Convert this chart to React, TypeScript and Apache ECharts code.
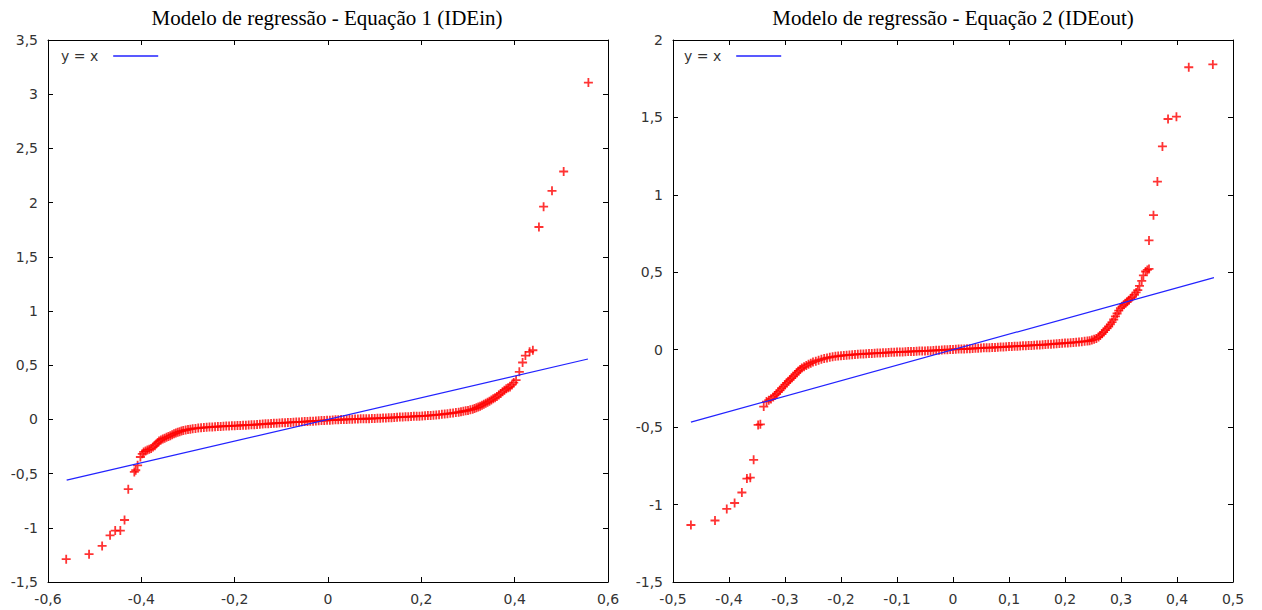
import React, { useEffect, useRef } from "react";
import * as echarts from "echarts";

// ---------- Data: Equação 1 (IDEin) ----------
const leftTitle = "Modelo de regressão - Equação 1 (IDEin)";
const leftLowTail: number[][] = [
  [-0.561, -1.289], [-0.512, -1.243], [-0.484, -1.167], [-0.467, -1.069], [-0.456, -1.026],
  [-0.445, -1.026], [-0.436, -0.928], [-0.428, -0.644], [-0.415, -0.485], [-0.412, -0.469],
  [-0.408, -0.424], [-0.402, -0.347],
];
const leftBody: number[][] = [
  [-0.398, -0.318], [-0.395, -0.300], [-0.391, -0.292], [-0.387, -0.282], [-0.383, -0.276],
  [-0.379, -0.268], [-0.375, -0.255], [-0.371, -0.242], [-0.368, -0.226], [-0.365, -0.212],
  [-0.362, -0.200], [-0.358, -0.190], [-0.354, -0.181], [-0.350, -0.173], [-0.346, -0.165],
  [-0.342, -0.158], [-0.338, -0.150], [-0.334, -0.142], [-0.330, -0.133], [-0.326, -0.126],
  [-0.322, -0.119], [-0.318, -0.113], [-0.314, -0.108], [-0.310, -0.103], [-0.305, -0.098],
  [-0.300, -0.094], [-0.295, -0.090], [-0.290, -0.086], [-0.284, -0.083], [-0.278, -0.080],
  [-0.272, -0.077], [-0.266, -0.075], [-0.260, -0.073], [-0.254, -0.071], [-0.248, -0.069],
  [-0.242, -0.068], [-0.236, -0.066], [-0.230, -0.065], [-0.224, -0.063], [-0.218, -0.062],
  [-0.212, -0.061], [-0.206, -0.059], [-0.200, -0.058], [-0.194, -0.057], [-0.188, -0.056],
  [-0.182, -0.054], [-0.176, -0.053], [-0.170, -0.052], [-0.164, -0.050], [-0.158, -0.049],
  [-0.152, -0.047], [-0.146, -0.045], [-0.140, -0.043], [-0.134, -0.041], [-0.128, -0.040],
  [-0.122, -0.038], [-0.116, -0.036], [-0.110, -0.035], [-0.104, -0.033], [-0.098, -0.032],
  [-0.092, -0.030], [-0.086, -0.029], [-0.080, -0.028], [-0.074, -0.026], [-0.068, -0.025],
  [-0.062, -0.023], [-0.056, -0.022], [-0.050, -0.020], [-0.044, -0.019], [-0.038, -0.017],
  [-0.032, -0.016], [-0.026, -0.014], [-0.020, -0.013], [-0.014, -0.011], [-0.008, -0.010],
  [-0.002, -0.008], [0.004, -0.007], [0.010, -0.006], [0.016, -0.004], [0.022, -0.003],
  [0.028, -0.002], [0.034, -0.001], [0.040, 0.000], [0.046, 0.001], [0.052, 0.002],
  [0.058, 0.003], [0.064, 0.004], [0.070, 0.005], [0.076, 0.006], [0.082, 0.006],
  [0.088, 0.007], [0.094, 0.008], [0.100, 0.009], [0.106, 0.010], [0.112, 0.011],
  [0.118, 0.012], [0.124, 0.013], [0.130, 0.015], [0.136, 0.016], [0.142, 0.018],
  [0.148, 0.019], [0.154, 0.021], [0.160, 0.022], [0.166, 0.024], [0.172, 0.025],
  [0.178, 0.026], [0.184, 0.028], [0.190, 0.029], [0.196, 0.030], [0.202, 0.032],
  [0.208, 0.033], [0.214, 0.035], [0.220, 0.037], [0.226, 0.039], [0.232, 0.041],
  [0.238, 0.044], [0.244, 0.047], [0.250, 0.050], [0.256, 0.053], [0.262, 0.056],
  [0.268, 0.059], [0.274, 0.063], [0.280, 0.067], [0.285, 0.071], [0.290, 0.075],
  [0.295, 0.079], [0.300, 0.083], [0.305, 0.088], [0.310, 0.094], [0.314, 0.100],
  [0.318, 0.107], [0.322, 0.114], [0.326, 0.122], [0.330, 0.131], [0.334, 0.140],
  [0.338, 0.149], [0.342, 0.158], [0.346, 0.168], [0.350, 0.180], [0.354, 0.191],
  [0.358, 0.200], [0.362, 0.212], [0.366, 0.226], [0.370, 0.240], [0.374, 0.255],
  [0.378, 0.270], [0.382, 0.282], [0.386, 0.292], [0.390, 0.300], [0.394, 0.318],
  [0.398, 0.340], [0.403, 0.362],
];
const leftHighTail: number[][] = [
  [0.410, 0.439], [0.417, 0.525], [0.423, 0.589], [0.432, 0.623], [0.439, 0.638],
  [0.452, 1.775], [0.462, 1.962], [0.480, 2.109], [0.505, 2.287], [0.558, 3.107],
];
const leftIdentity: number[][] = [[-0.56, -0.56], [0.557, 0.557]];
const leftXRange = { min: -0.6, max: 0.6, interval: 0.2 };
const leftYRange = { min: -1.5, max: 3.5, interval: 0.5 };

// ---------- Data: Equação 2 (IDEout) ----------
const rightTitle = "Modelo de regressão - Equação 2 (IDEout)";
const rightLowTail: number[][] = [
  [-0.468, -1.132], [-0.425, -1.103], [-0.404, -1.028], [-0.390, -0.990], [-0.377, -0.922],
  [-0.368, -0.832], [-0.362, -0.826], [-0.356, -0.711], [-0.348, -0.486], [-0.344, -0.482],
  [-0.338, -0.367], [-0.333, -0.335], [-0.329, -0.326], [-0.325, -0.318], [-0.321, -0.305],
];
const rightBody: number[][] = [
  [-0.318, -0.295], [-0.315, -0.285], [-0.312, -0.272], [-0.309, -0.262], [-0.306, -0.250],
  [-0.303, -0.238], [-0.300, -0.226], [-0.297, -0.214], [-0.294, -0.203], [-0.291, -0.193],
  [-0.288, -0.183], [-0.285, -0.172], [-0.282, -0.160], [-0.279, -0.148], [-0.276, -0.137],
  [-0.273, -0.127], [-0.270, -0.118], [-0.266, -0.110], [-0.262, -0.102], [-0.258, -0.094],
  [-0.254, -0.087], [-0.250, -0.080], [-0.245, -0.074], [-0.240, -0.068], [-0.235, -0.062],
  [-0.230, -0.057], [-0.225, -0.053], [-0.220, -0.049], [-0.215, -0.046], [-0.210, -0.043],
  [-0.205, -0.041], [-0.200, -0.039], [-0.195, -0.037], [-0.190, -0.035], [-0.185, -0.034],
  [-0.180, -0.032], [-0.175, -0.031], [-0.170, -0.029], [-0.165, -0.028], [-0.160, -0.027],
  [-0.155, -0.026], [-0.150, -0.025], [-0.145, -0.024], [-0.140, -0.023], [-0.135, -0.022],
  [-0.130, -0.021], [-0.125, -0.020], [-0.120, -0.019], [-0.115, -0.018], [-0.110, -0.017],
  [-0.105, -0.016], [-0.100, -0.015], [-0.095, -0.014], [-0.090, -0.014], [-0.085, -0.013],
  [-0.080, -0.012], [-0.075, -0.011], [-0.070, -0.011], [-0.065, -0.010], [-0.060, -0.009],
  [-0.055, -0.008], [-0.050, -0.008], [-0.045, -0.007], [-0.040, -0.006], [-0.035, -0.005],
  [-0.030, -0.004], [-0.025, -0.003], [-0.020, -0.002], [-0.015, -0.001], [-0.010, 0.000],
  [-0.005, 0.001], [0.000, 0.002], [0.005, 0.003], [0.010, 0.004], [0.015, 0.004],
  [0.020, 0.005], [0.025, 0.006], [0.030, 0.007], [0.035, 0.008], [0.040, 0.009],
  [0.045, 0.010], [0.050, 0.011], [0.055, 0.012], [0.060, 0.013], [0.065, 0.013],
  [0.070, 0.014], [0.075, 0.015], [0.080, 0.016], [0.085, 0.017], [0.090, 0.018],
  [0.095, 0.019], [0.100, 0.020], [0.105, 0.021], [0.110, 0.022], [0.115, 0.023],
  [0.120, 0.024], [0.125, 0.025], [0.130, 0.026], [0.135, 0.027], [0.140, 0.028],
  [0.145, 0.029], [0.150, 0.030], [0.155, 0.031], [0.160, 0.032], [0.165, 0.033],
  [0.170, 0.035], [0.175, 0.036], [0.180, 0.037], [0.185, 0.039], [0.190, 0.040],
  [0.195, 0.041], [0.200, 0.043], [0.205, 0.044], [0.210, 0.045], [0.215, 0.047],
  [0.220, 0.048], [0.225, 0.050], [0.230, 0.052], [0.235, 0.054], [0.240, 0.056],
  [0.244, 0.058], [0.248, 0.062], [0.252, 0.067], [0.256, 0.073], [0.260, 0.082],
  [0.263, 0.092], [0.266, 0.103], [0.269, 0.114], [0.272, 0.126], [0.275, 0.138],
  [0.278, 0.150], [0.281, 0.163], [0.284, 0.178], [0.287, 0.195], [0.290, 0.215],
  [0.293, 0.234], [0.296, 0.252], [0.299, 0.268], [0.302, 0.280], [0.305, 0.290],
  [0.308, 0.300], [0.311, 0.310], [0.314, 0.320], [0.317, 0.330], [0.320, 0.340],
  [0.324, 0.355], [0.327, 0.370], [0.330, 0.385], [0.333, 0.412], [0.337, 0.445],
  [0.340, 0.480], [0.344, 0.505], [0.347, 0.515], [0.350, 0.522],
];
const rightHighTail: number[][] = [
  [0.350, 0.706], [0.358, 0.869], [0.365, 1.086], [0.374, 1.313], [0.384, 1.490],
  [0.399, 1.505], [0.421, 1.824], [0.464, 1.842],
];
const rightIdentity: number[][] = [[-0.468, -0.468], [0.466, 0.466]];
const rightXRange = { min: -0.5, max: 0.5, interval: 0.1 };
const rightYRange = { min: -1.5, max: 2, interval: 0.5 };

const legendName = "y = x";

// ---------- Styling helpers ----------
const SANS = "'DejaVu Sans', Verdana, sans-serif";
const SERIF = "'Liberation Serif', 'Times New Roman', serif";
const PLUS = "path://M3.2,0H4.8V3.2H8V4.8H4.8V8H3.2V4.8H0V3.2H3.2Z";

const fmt = (v: number) => {
  const r = Math.round(v * 100) / 100;
  return (r === 0 ? 0 : r).toString().replace(".", ",");
};

const mkAxis = (
  gridIndex: number,
  range: { min: number; max: number; interval: number },
  position: string,
  showLabel: boolean
) => ({
  type: "value",
  gridIndex,
  min: range.min,
  max: range.max,
  interval: range.interval,
  position,
  axisLine: { show: true, onZero: false, lineStyle: { color: "#000", width: 1 } },
  axisTick: { show: true, inside: true, length: 5, lineStyle: { color: "#000", width: 1 } },
  axisLabel: {
    show: showLabel,
    formatter: fmt,
    color: "#333",
    fontSize: 14,
    fontFamily: SANS,
    margin: 10,
  },
  splitLine: { show: false },
});

const mkLegend = (left: number) => ({
  left,
  top: 49,
  padding: 0,
  orient: "horizontal",
  align: "right",
  selectedMode: false,
  itemWidth: 45,
  itemHeight: 1.5,
  data: [{ name: legendName, icon: "rect" }],
  textStyle: { fontSize: 14, color: "#333", fontFamily: SANS, padding: [0, 10, 0, 0] },
});

const mkTitle = (text: string, left: number) => ({
  text,
  left,
  top: 7,
  padding: 0,
  textAlign: "center",
  textStyle: { fontFamily: SERIF, fontSize: 21, fontWeight: "normal", color: "#000" },
});

export default function App() {
  const ref = useRef<HTMLDivElement>(null);

  useEffect(() => {
    if (!ref.current) return;
    const chart = echarts.init(ref.current, undefined, { renderer: "svg" });
    const scatterStyle = {
      type: "scatter",
      symbol: PLUS,
      symbolSize: 9,
      itemStyle: { color: "#ff0000" },
      silent: true,
    };
    const lineStyle = {
      type: "line",
      name: legendName,
      showSymbol: false,
      symbol: "none",
      lineStyle: { color: "#2222ff", width: 1.2 },
      itemStyle: { color: "#2222ff" },
      silent: true,
    };
    chart.setOption({
      animation: false,
      backgroundColor: "#ffffff",
      title: [mkTitle(leftTitle, 327), mkTitle(rightTitle, 953)],
      legend: [mkLegend(61), mkLegend(684)],
      grid: [
        { left: 48, right: 654, top: 40, bottom: 28 },
        { left: 673, right: 29, top: 40, bottom: 28 },
      ],
      xAxis: [
        mkAxis(0, leftXRange, "bottom", true),
        mkAxis(0, leftXRange, "top", false),
        mkAxis(1, rightXRange, "bottom", true),
        mkAxis(1, rightXRange, "top", false),
      ],
      yAxis: [
        mkAxis(0, leftYRange, "left", true),
        mkAxis(0, leftYRange, "right", false),
        mkAxis(1, rightYRange, "left", true),
        mkAxis(1, rightYRange, "right", false),
      ],
      series: [
        { ...scatterStyle, name: "IDEin", xAxisIndex: 0, yAxisIndex: 0, data: [...leftLowTail, ...leftBody, ...leftHighTail] },
        { ...lineStyle, xAxisIndex: 0, yAxisIndex: 0, data: leftIdentity },
        { ...scatterStyle, name: "IDEout", xAxisIndex: 2, yAxisIndex: 2, data: [...rightLowTail, ...rightBody, ...rightHighTail] },
        { ...lineStyle, xAxisIndex: 2, yAxisIndex: 2, data: rightIdentity },
      ],
    });
    return () => chart.dispose();
  }, []);

  return (
    <div
      ref={ref}
      style={{ position: "fixed", left: 0, top: 0, width: 1262, height: 610, background: "#fff" }}
    />
  );
}
